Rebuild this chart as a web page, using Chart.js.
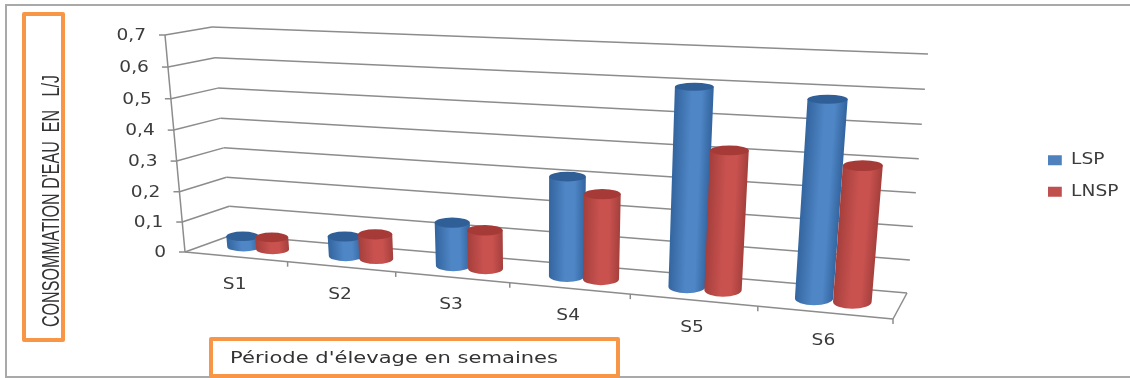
<!DOCTYPE html>
<html>
<head>
<meta charset="utf-8">
<script src="https://cdn.jsdelivr.net/npm/chart.js@4"></script>
<style>
  body { margin: 0; background: #fff; }
  canvas { display: block; }
</style>
</head>
<body>
<canvas id="chart" width="1130" height="378"></canvas>
<script>
const categories = ["S1", "S2", "S3", "S4", "S5", "S6"];
const lspValues = [0.035, 0.064, 0.139, 0.31, 0.6, 0.583];
const lnspValues = [0.04, 0.08, 0.123, 0.264, 0.42, 0.4];
const yMin = 0;
const yMax = 0.7;
const yStep = 0.1;
const yTitle = "CONSOMMATION D'EAU  EN   L/J";
const xTitle = "Période d'élevage en semaines";

// screen corners of the 3d box: f/b = front/back, l/r = left/right, 0/1 = floor/top
const box = {
  fl0: [185, 252], fl1: [165, 35],
  bl0: [232, 235], bl1: [212, 27],
  fr0: [893, 319], fr1: [915, 69],
  br0: [907, 293], br1: [928, 54]
};
const perspX = 1.18;
const perspY = 1.04;
const textStretch = 1.2;
const gridColor = "#8c8c8c";
const textColor = "#3c3c3c";
const labelFont = '15.5px "DejaVu Sans"';

function warp(t, k) {
  return t / (t + k * (1 - t));
}

function mix(a, b, t) {
  return [a[0] + (b[0] - a[0]) * t, a[1] + (b[1] - a[1]) * t];
}

// pixel from the flat chart area -> point in the box, depth 0 = front, 1 = back
function project(chart, px, py, depth) {
  const a = chart.chartArea;
  const u = warp((px - a.left) / a.width, perspX);
  const v = warp((a.bottom - py) / a.height, perspY);
  const front = mix(mix(box.fl0, box.fr0, u), mix(box.fl1, box.fr1, u), v);
  const back = mix(mix(box.bl0, box.br0, u), mix(box.bl1, box.br1, u), v);
  return mix(front, back, depth);
}

function line(ctx, a, b) {
  ctx.beginPath();
  ctx.moveTo(a[0], a[1]);
  ctx.lineTo(b[0], b[1]);
  ctx.stroke();
}

// canvas text squeezed or widened along its baseline
function wideText(ctx, text, x, y, scaleX, align) {
  ctx.save();
  ctx.translate(x, y);
  ctx.scale(scaleX, 1);
  ctx.textAlign = align;
  ctx.fillText(text, 0, 0);
  ctx.restore();
}

function drawGrid(chart) {
  const ctx = chart.ctx;
  const a = chart.chartArea;
  const yScale = chart.scales.y;
  const xScale = chart.scales.x;
  ctx.save();
  ctx.strokeStyle = gridColor;
  ctx.lineWidth = 1.5;
  ctx.fillStyle = textColor;
  ctx.font = labelFont;
  ctx.textBaseline = "middle";

  yScale.ticks.forEach(tick => {
    const py = yScale.getPixelForValue(tick.value);
    const front = project(chart, a.left, py, 0);
    const back = project(chart, a.left, py, 1);
    const backRight = project(chart, a.right, py, 1);
    line(ctx, [front[0] - 6, front[1]], front);
    line(ctx, front, back);
    line(ctx, back, backRight);
    wideText(ctx, tick.label, front[0] - 19, front[1] + 1, textStretch, "right");
  });
  // left edge of the front wall
  line(ctx, project(chart, a.left, a.bottom, 0), project(chart, a.left, a.top, 0));

  // floor
  const fl = project(chart, a.left, a.bottom, 0);
  const fr = project(chart, a.right, a.bottom, 0);
  const br = project(chart, a.right, a.bottom, 1);
  line(ctx, fl, fr);
  line(ctx, fr, br);

  const step = a.width / categories.length;
  for (let i = 1; i <= categories.length; i++) {
    const p = project(chart, a.left + step * i, a.bottom, 0);
    line(ctx, p, [p[0], p[1] + 5]);
  }
  categories.forEach((name, i) => {
    const p = project(chart, xScale.getPixelForValue(i), a.bottom, 0);
    wideText(ctx, name, p[0] - 1, p[1] + 28, textStretch, "center");
  });
  ctx.restore();
}

function drawCylinder(chart, el, colors) {
  const ctx = chart.ctx;
  const a = chart.chartArea;
  const halfBar = el.width / 2;
  const l0 = project(chart, el.x - halfBar, el.base, 0.5);
  const r0 = project(chart, el.x + halfBar, el.base, 0.5);
  const l1 = project(chart, el.x - halfBar, el.y, 0.5);
  const r1 = project(chart, el.x + halfBar, el.y, 0.5);
  const c0 = mix(l0, r0, 0.5);
  const c1 = mix(l1, r1, 0.5);
  // bars widen less towards the right than the floor does
  const damp = 1 - 0.13 * (el.x - a.left) / a.width;
  const rx0 = Math.abs(r0[0] - l0[0]) / 2 * damp;
  const rx1 = Math.abs(r1[0] - l1[0]) / 2 * damp;
  const depthY = py => project(chart, el.x, py, 0)[1] - project(chart, el.x, py, 1)[1];
  const ry0 = depthY(el.base) * 0.28;
  const ry1 = depthY(el.y) * 0.28;

  // shading runs across the cylinder, square to its lean
  const axis = [c1[0] - c0[0], c1[1] - c0[1]];
  const len = Math.hypot(axis[0], axis[1]) || 1;
  const across = [-axis[1] / len, axis[0] / len];
  const mid = mix(c0, c1, 0.5);
  const r = (rx0 + rx1) / 2;
  const sign = across[0] > 0 ? 1 : -1;
  const grad = ctx.createLinearGradient(
    mid[0] - across[0] * r * sign, mid[1] - across[1] * r * sign,
    mid[0] + across[0] * r * sign, mid[1] + across[1] * r * sign
  );
  grad.addColorStop(0, colors.edge);
  grad.addColorStop(0.45, colors.mid);
  grad.addColorStop(0.7, colors.mid);
  grad.addColorStop(1, colors.edge);

  ctx.beginPath();
  ctx.moveTo(c1[0] - rx1, c1[1]);
  ctx.lineTo(c0[0] - rx0, c0[1]);
  ctx.ellipse(c0[0], c0[1], rx0, ry0, 0, Math.PI, 0, true);
  ctx.lineTo(c1[0] + rx1, c1[1]);
  ctx.closePath();
  ctx.fillStyle = grad;
  ctx.fill();

  ctx.beginPath();
  ctx.ellipse(c1[0], c1[1], rx1, ry1, 0, 0, Math.PI * 2);
  ctx.fillStyle = colors.top;
  ctx.fill();
}

const cylinderColors = [
  { edge: "#33659f", mid: "#4f86c6", top: "#2f5f96" },
  { edge: "#a53f3c", mid: "#c9524f", top: "#a53a37" }
];

const boxChart = {
  id: "boxChart",
  beforeDraw(chart) {
    const ctx = chart.ctx;
    ctx.save();
    ctx.fillStyle = "#fff";
    ctx.fillRect(0, 0, chart.width, chart.height);
    ctx.strokeStyle = "#a9a9a9";
    ctx.lineWidth = 2;
    ctx.strokeRect(6, 5, 1140, 372);
    ctx.restore();

    // legend is widened like the rest of the text
    const legend = chart.legend;
    if (!legend.wideDraw) {
      const draw = legend.draw;
      legend.wideDraw = true;
      legend.draw = function () {
        const left = legend.legendHitBoxes[0].left;
        ctx.save();
        ctx.translate(1048, 2);
        ctx.scale(textStretch, 1);
        ctx.translate(-left, 0);
        draw.call(legend);
        ctx.restore();
      };
    }
  },
  beforeDatasetsDraw(chart) {
    drawGrid(chart);
    chart.data.datasets.forEach((ds, d) => {
      chart.getDatasetMeta(d).data.forEach(el => drawCylinder(chart, el, cylinderColors[d]));
    });
    return false;
  },
  afterDraw(chart) {
    const ctx = chart.ctx;
    ctx.save();
    ctx.strokeStyle = "#f79646";
    ctx.lineWidth = 4;
    ctx.lineJoin = "round";
    ctx.strokeRect(24, 14, 39, 326);
    ctx.strokeRect(211, 339, 407, 37);

    ctx.fillStyle = "#333";
    ctx.textBaseline = "alphabetic";
    ctx.font = '23px "Liberation Sans"';
    ctx.save();
    ctx.translate(59, 327);
    ctx.rotate(-Math.PI / 2);
    wideText(ctx, yTitle, 0, 0, 252 / ctx.measureText(yTitle).width, "left");
    ctx.restore();

    ctx.font = '16px "DejaVu Sans"';
    wideText(ctx, xTitle, 230, 363, 328 / ctx.measureText(xTitle).width, "left");
    ctx.restore();
  }
};

new Chart(document.getElementById("chart"), {
  type: "bar",
  data: {
    labels: categories,
    datasets: [
      { label: "LSP", data: lspValues, backgroundColor: "#4f81bd", borderWidth: 0 },
      { label: "LNSP", data: lnspValues, backgroundColor: "#c0504d", borderWidth: 0 }
    ]
  },
  options: {
    responsive: false,
    animation: false,
    layout: { padding: { left: 190, right: 10, top: 30, bottom: 60 } },
    datasets: { bar: { categoryPercentage: 0.58, barPercentage: 1.14 } },
    scales: {
      x: { display: false },
      y: {
        display: false,
        min: yMin,
        max: yMax,
        ticks: { stepSize: yStep, callback: v => String(+v.toFixed(1)).replace(".", ",") }
      }
    },
    plugins: {
      tooltip: { enabled: false },
      legend: {
        position: "right",
        labels: {
          boxWidth: 11.5,
          boxHeight: 10,
          padding: 16,
          color: textColor,
          font: { family: "DejaVu Sans", size: 15.5 }
        }
      }
    }
  },
  plugins: [boxChart]
});
</script>
</body>
</html>
